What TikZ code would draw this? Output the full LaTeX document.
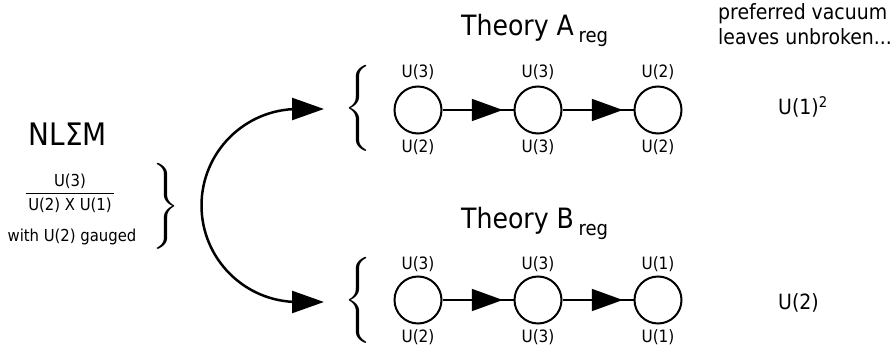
\documentclass[tikz,border=0pt]{standalone}
\usepackage{fontspec}
\setmainfont{DejaVu Sans Condensed}
\usepackage{graphicx}
\usetikzlibrary{arrows.meta,decorations.markings}
\newcommand{\fsz}[1]{\fontsize{#1}{1.2\dimexpr #1pt\relax}\selectfont}
\newcommand{\lbr}{\resizebox*{27pt}{86pt}{$\Bigg\{$}}
\newcommand{\rbr}{\resizebox*{27pt}{86pt}{$\Bigg\}$}}
\tikzstyle{vac}=[circle,draw=black,line width=2pt,
                 inner sep=0pt,minimum size=47pt]
\tikzstyle{grp}=[inner sep=0pt,font=\fsz{17}]
\tikzstyle{big}=[inner sep=0pt,font=\fsz{28}]
\tikzstyle{note}=[inner sep=0pt,font=\fsz{21}]
\tikzstyle{flow}=[line width=1.5pt,postaction={decorate},
                  decoration={markings,mark=at position 0.85 with
                  {\arrow{Triangle[length=31pt,width=22pt]}}}]
\tikzstyle{swing}=[line width=2.5pt,
                   {Triangle[length=32pt,width=22pt]}-{Triangle[length=32pt,width=22pt]}]

\begin{document}
\begin{tikzpicture}[x=1pt,y=-1pt]
    \useasboundingbox (0,0) rectangle (892,350);
    % the sigma model
    \node (nlsm) at (68,146) [anchor=base,inner sep=0pt,font=\fsz{31}]{NLΣM};
    \node (coset) at (70,195) [grp,font=\fsz{16.5}]{\setlength{\arrayrulewidth}{1pt}%
      \begin{tabular}{@{\,}c@{\,}}U(3)\\\hline \rule{0pt}{17pt}U(2) X U(1)\end{tabular}};
    \node (gauge) at (72,241) [grp,font=\fsz{16.5},anchor=base]{with U(2) gauged};
    \node (lbrace) at (166,206) [inner sep=0pt]{\rbr};
    % the two theories
    \node (tha) at (461,36) [big,anchor=base west]{Theory A\,\raisebox{-7pt}{\fsz{20}reg}};
    \node (thb) at (461,228) [big,anchor=base west]{Theory B\,\raisebox{-7pt}{\fsz{20}reg}};
    \node (abrace) at (358,108) [inner sep=0pt]{\lbr};
    \node (bbrace) at (358,300) [inner sep=0pt]{\lbr};
    \node (a1) at (418,110) [vac]{};
    \node (a2) at (538,110) [vac]{};
    \node (a3) at (658,110) [vac]{};
    \node (b1) at (418,300) [vac]{};
    \node (b2) at (538,300) [vac]{};
    \node (b3) at (658,300) [vac]{};
    \draw[flow] (a1) -- (a2);
    \draw[flow] (a2) -- (a3);
    \draw[flow] (b1) -- (b2);
    \draw[flow] (b2) -- (b3);
    % gauge groups
    \node (a1u) at (418,72) [grp]{U(3)};
    \node (a2u) at (538,72) [grp]{U(3)};
    \node (a3u) at (658,72) [grp]{U(2)};
    \node (a1d) at (418,147) [grp]{U(2)};
    \node (a2d) at (538,147) [grp]{U(3)};
    \node (a3d) at (658,147) [grp]{U(2)};
    \node (b1u) at (418,264) [grp]{U(3)};
    \node (b2u) at (538,264) [grp]{U(3)};
    \node (b3u) at (658,264) [grp]{U(1)};
    \node (b1d) at (418,337) [grp]{U(2)};
    \node (b2d) at (538,337) [grp]{U(3)};
    \node (b3d) at (658,337) [grp]{U(1)};
    % the arrow into both theories
    \coordinate (tipa) at (324,109);
    \coordinate (tipb) at (324,302);
    \draw[swing] (tipa) -- ++(-26,0) arc[start angle=90,end angle=270,radius=96.5pt] -- (tipb);
    % unbroken groups
    \node (vac1) at (718,20) [note,anchor=base west]{preferred vacuum};
    \node (vac2) at (718,45) [note,anchor=base west]{leaves unbroken...};
    \node (unba) at (778,115) [note,anchor=base west]{U(1)\textsuperscript{2}};
    \node (unbb) at (778,309) [note,anchor=base west]{U(2)};
\end{tikzpicture}
\end{document}
